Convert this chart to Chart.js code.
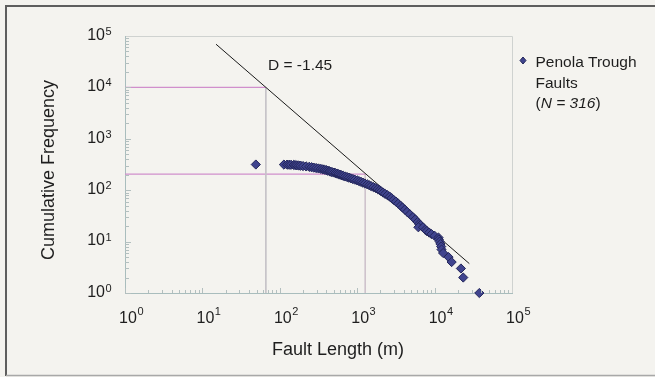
<!DOCTYPE html>
<html><head><meta charset="utf-8">
<script src="https://cdn.jsdelivr.net/npm/chart.js@4.4.1/dist/chart.umd.min.js"></script>
<style>html,body{margin:0;padding:0;background:#f4f3ef;}canvas{display:block;}</style>
</head><body>
<canvas id="c" width="655" height="377"></canvas>
<script>
// Fault lengths (m) and cumulative frequency
const faultLength = [49,113,124,132,140,151,158,166,176,186,200,219,240,257,275,295,316,339,359,380,398,417,437,452,473,501,525,550,575,603,631,661,700,741,785,832,881,933,1000,1059,1122,1189,1259,1349,1429,1514,1622,1738,1841,1950,2042,2163,2291,2455,2630,2786,2951,3162,3388,3631,3846,4121,4416,4786,5248,5623,6026,6310,6607,6170,7079,7586,7943,8511,9120,10000,11220,11350,11620,11890,12160,12300,12880,15136,16596,21878,23442,37840];
const cumFreq =     [316,315,314,313,312,310,308,305,302,300,295,290,285,280,275,270,265,260,255,250,245,240,235,230,225,220,215,210,205,200,195,190,185,180,175,170,165,160,155,150,145,140,135,130,125,120,115,110,105,100,95,90,85,80,75,70,65,60,55,50,46,42,38,34,30,27,24,22,21,19,19,17,16,15,14,13,12,11,10,9,8,7,6,5,4,3,2,1];
// Power-law line endpoints (as drawn)
const fitLineX = [15, 28100];
const fitLineY = [69200, 3.73];
// Reference guide lines
const guideX1 = [1, 66, 66];
const guideY1 = [10000, 10000, 1];
const guideX2 = [1, 1270, 1270];
const guideY2 = [205, 205, 1];
// Tick labels
const decadeValues = [1, 10, 100, 1000, 10000, 100000];
const decadeExponents = ['0', '1', '2', '3', '4', '5'];
const xTitle = 'Fault Length (m)';
const yTitle = 'Cumulative Frequency';
const seriesName = ['Penola Trough', 'Faults'];
const seriesCount = 'N = 316';
const slopeLabel = 'D = -1.45';

const pts = (xs, ys) => xs.map((x, i) => ({x: x, y: ys[i]}));
const FONT = '"Liberation Sans", Arial, sans-serif';

const decorPlugin = {
  id: 'decor',
  beforeDraw(chart) {
    const ctx = chart.ctx;
    ctx.save();
    ctx.fillStyle = '#f4f3ef';
    ctx.fillRect(0, 0, chart.width, chart.height);
    // frame
    ctx.strokeStyle = '#5e5e5e';
    ctx.lineWidth = 2;
    ctx.beginPath();
    ctx.moveTo(6, 376); ctx.lineTo(6, 6); ctx.lineTo(655, 6);
    ctx.stroke();
    ctx.strokeStyle = '#a8a8a8';
    ctx.lineWidth = 1.5;
    ctx.beginPath();
    ctx.moveTo(6, 375.5); ctx.lineTo(655, 375.5);
    ctx.stroke();
    // top/right plot border
    const a = chart.chartArea;
    ctx.strokeStyle = '#cfd2d0';
    ctx.lineWidth = 1;
    ctx.beginPath();
    ctx.moveTo(a.left, a.top + 0.5); ctx.lineTo(a.right + 0.5, a.top + 0.5); ctx.lineTo(a.right + 0.5, a.bottom);
    ctx.stroke();
    ctx.restore();
  },
  afterDatasetsDraw(chart) {
    const ctx = chart.ctx;
    const xs = chart.scales.x, ys = chart.scales.y;
    const a = chart.chartArea;
    ctx.save();
    // minor ticks
    ctx.strokeStyle = '#b3bfbf';
    ctx.lineWidth = 1;
    for (let d = 0; d < 5; d++) {
      for (let k = 1; k <= 9; k++) {
        const v = k * Math.pow(10, d);
        const len = k === 1 ? 5 : 3;
        const px = Math.round(xs.getPixelForValue(v)) + 0.5;
        ctx.beginPath(); ctx.moveTo(px, a.bottom); ctx.lineTo(px, a.bottom - len); ctx.stroke();
        const py = Math.round(ys.getPixelForValue(v)) + 0.5;
        ctx.beginPath(); ctx.moveTo(a.left, py); ctx.lineTo(a.left + len + 1, py); ctx.stroke();
      }
    }
    ctx.fillStyle = '#1e1e1e';
    ctx.textBaseline = 'alphabetic';
    // x tick labels
    decadeValues.forEach((v, i) => {
      const px = xs.getPixelForValue(v) + 3;
      ctx.font = '16px ' + FONT;
      ctx.textAlign = 'center';
      ctx.fillText('10', px, 323);
      const w = ctx.measureText('10').width;
      ctx.font = '11px ' + FONT;
      ctx.textAlign = 'left';
      ctx.fillText(decadeExponents[i], px + w / 2 + 0.5, 314.5);
    });
    // y tick labels
    decadeValues.forEach((v, i) => {
      const py = ys.getPixelForValue(v);
      ctx.font = '16px ' + FONT;
      ctx.textAlign = 'right';
      ctx.fillText('10', 105, py + 3.8);
      ctx.font = '11px ' + FONT;
      ctx.textAlign = 'left';
      ctx.fillText(decadeExponents[i], 105.5, py - 1);
    });
    // axis titles
    ctx.font = '18px ' + FONT;
    ctx.textAlign = 'center';
    ctx.fillText(xTitle, 338, 354.5);
    ctx.save();
    ctx.translate(54, 170);
    ctx.rotate(-Math.PI / 2);
    ctx.fillText(yTitle, 0, 0);
    ctx.restore();
    // slope label
    ctx.font = '15.5px ' + FONT;
    ctx.textAlign = 'left';
    ctx.fillText(slopeLabel, 268, 69.5);
    // legend
    ctx.fillStyle = '#40448e';
    ctx.strokeStyle = '#23265a';
    ctx.beginPath();
    ctx.moveTo(523, 57); ctx.lineTo(526, 60.5); ctx.lineTo(523, 64); ctx.lineTo(520, 60.5); ctx.closePath();
    ctx.fill(); ctx.stroke();
    ctx.fillStyle = '#1e1e1e';
    ctx.font = '15.5px ' + FONT;
    ctx.fillText(seriesName[0], 535.5, 66.5);
    ctx.fillText(seriesName[1], 535.5, 87.5);
    let x0 = 535.5;
    ctx.fillText('(', x0, 107.5); x0 += ctx.measureText('(').width;
    ctx.font = 'italic 15.5px ' + FONT;
    ctx.fillText(seriesCount, x0, 107.5); x0 += ctx.measureText(seriesCount).width;
    ctx.font = '15.5px ' + FONT;
    ctx.fillText(')', x0, 107.5);
    ctx.restore();
  }
};

new Chart(document.getElementById('c'), {
  type: 'scatter',
  data: {
    datasets: [
      {
        label: 'Penola Trough Faults',
        data: pts(faultLength, cumFreq),
        pointStyle: 'rectRot',
        pointRadius: 4.6,
        backgroundColor: '#40448e',
        borderColor: '#23265a',
        borderWidth: 1,
        clip: false
      },
      {
        label: 'fit', data: pts(fitLineX, fitLineY), showLine: true, pointRadius: 0,
        borderColor: '#1a1a1a', borderWidth: 1, clip: false
      },
      {
        label: 'g1h', data: pts(guideX1.slice(0, 2), guideY1.slice(0, 2)), showLine: true, pointRadius: 0,
        borderColor: '#d08fcc', borderWidth: 1.3
      },
      {
        label: 'g1v', data: pts(guideX1.slice(1), guideY1.slice(1)), showLine: true, pointRadius: 0,
        borderColor: '#c5c2c8', borderWidth: 1
      },
      {
        label: 'g2h', data: pts(guideX2.slice(0, 2), guideY2.slice(0, 2)), showLine: true, pointRadius: 0,
        borderColor: '#d08fcc', borderWidth: 1.3
      },
      {
        label: 'g2v', data: pts(guideX2.slice(1), guideY2.slice(1)), showLine: true, pointRadius: 0,
        borderColor: '#cfc3cc', borderWidth: 1
      }
    ]
  },
  options: {
    responsive: false,
    animation: false,
    layout: { padding: { left: 117, right: 143, top: 36, bottom: 76 } },
    plugins: { legend: { display: false }, tooltip: { enabled: false } },
    scales: {
      x: {
        type: 'logarithmic', min: 1, max: 100000,
        ticks: { display: false },
        grid: { display: false },
        border: { display: true, color: '#a9bdbd', width: 1 }
      },
      y: {
        type: 'logarithmic', min: 1, max: 100000,
        ticks: { display: false },
        grid: { display: false },
        border: { display: true, color: '#a9bdbd', width: 1 }
      }
    }
  },
  plugins: [decorPlugin]
});
</script>
</body></html>
